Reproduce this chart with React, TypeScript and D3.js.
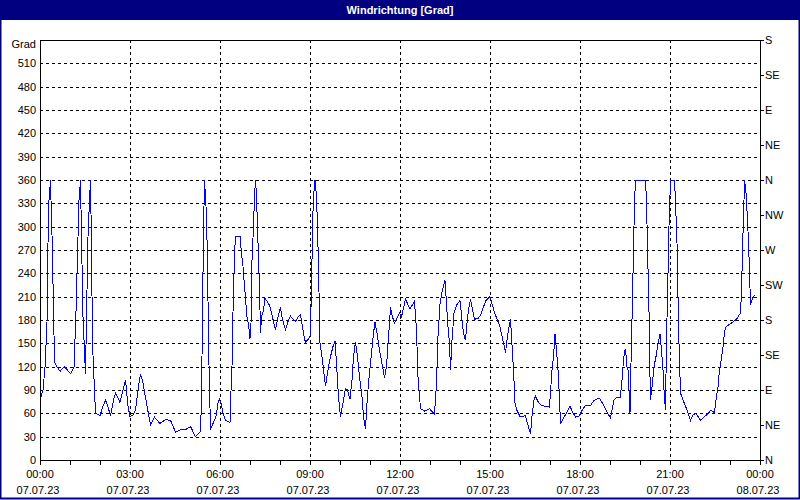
import * as d3 from "d3";

// Windrichtung 07.07.23 00:00 – 08.07.23 00:00, minutes since midnight
const minutes = [
  0, 6, 10, 14, 16, 18, 21, 22, 24, 27, 29, 34, 40, 49, 61, 68, 72, 76, 78, 81,
  83, 86, 91, 93, 96, 99, 101, 103, 105, 109, 111, 120, 126, 131, 136, 141, 147, 151, 160, 166,
  171, 176, 180, 186, 191, 196, 201, 206, 213, 221, 229, 240, 251, 261, 271, 281, 291, 301, 311, 320,
  323, 325, 328, 329, 332, 335, 337, 341, 346, 352, 356, 359, 363, 366, 371, 380, 381, 384, 385, 387,
  389, 391, 400, 403, 406, 408, 411, 414, 417, 420, 422, 424, 427, 429, 431, 433, 435, 437, 439, 441,
  443, 447, 450, 454, 459, 463, 467, 471, 476, 481, 484, 487, 491, 496, 501, 505, 511, 516, 521, 525,
  528, 531, 536, 540, 543, 545, 547, 550, 553, 555, 557, 560, 564, 567, 571, 576, 581, 586, 590, 593,
  597, 601, 606, 611, 615, 620, 624, 627, 631, 635, 639, 644, 647, 651, 654, 657, 663, 667, 670, 674,
  679, 684, 689, 693, 696, 699, 701, 705, 709, 715, 719, 723, 731, 740, 749, 753, 756, 761, 769, 779,
  789, 793, 796, 800, 805, 810, 813, 816, 819, 821, 824, 828, 833, 840, 844, 847, 851, 854, 857, 861,
  865, 869, 876, 881, 887, 892, 900, 904, 909, 915, 920, 924, 928, 931, 935, 938, 941, 944, 947, 950,
  953, 960, 966, 971, 975, 981, 984, 988, 991, 996, 1001, 1009, 1019, 1024, 1027, 1030, 1033, 1037, 1041, 1047,
  1053, 1060, 1065, 1071, 1079, 1081, 1086, 1091, 1101, 1106, 1111, 1119, 1126, 1133, 1141, 1144, 1148, 1152, 1160, 1163,
  1166, 1169, 1171, 1174, 1176, 1178, 1180, 1181, 1183, 1185, 1187, 1189, 1191, 1211, 1213, 1215, 1217, 1219, 1220, 1221,
  1224, 1228, 1232, 1236, 1240, 1243, 1246, 1248, 1251, 1253, 1255, 1257, 1259, 1262, 1269, 1271, 1274, 1276, 1278, 1281,
  1286, 1293, 1301, 1306, 1311, 1316, 1321, 1329, 1336, 1341, 1349, 1352, 1356, 1359, 1363, 1367, 1369, 1373, 1383, 1393,
  1400, 1403, 1405, 1407, 1409, 1412, 1415, 1417, 1419, 1421, 1425, 1429,
];

const degrees = [
  77, 90, 119, 176, 279, 334, 360, 334, 289, 197, 126, 120, 114, 120, 111, 119, 191, 287, 334, 360,
  287, 184, 111, 184, 287, 334, 360, 274, 150, 90, 60, 57, 69, 77, 68, 57, 77, 86, 74, 90,
  103, 69, 56, 58, 64, 90, 111, 99, 73, 45, 55, 47, 52, 51, 36, 39, 39, 43, 30, 36,
  69, 197, 326, 360, 326, 261, 150, 39, 47, 56, 73, 78, 71, 60, 51, 48, 73, 120, 167, 214,
  264, 288, 288, 266, 249, 231, 208, 184, 174, 156, 176, 257, 300, 339, 360, 339, 300, 259, 223, 163,
  184, 193, 208, 204, 199, 189, 178, 167, 184, 196, 184, 176, 168, 178, 185, 182, 178, 184, 187, 171,
  159, 151, 155, 159, 214, 300, 339, 360, 339, 300, 249, 150, 133, 116, 95, 116, 133, 146, 153, 124,
  81, 56, 73, 92, 90, 78, 103, 133, 152, 133, 107, 81, 56, 40, 73, 99, 137, 163, 177, 163,
  141, 124, 106, 120, 150, 176, 196, 184, 176, 184, 189, 184, 207, 194, 204, 167, 107, 66, 63, 66,
  59, 99, 159, 201, 219, 231, 201, 171, 150, 116, 154, 189, 199, 205, 180, 163, 154, 176, 193, 207,
  193, 181, 182, 186, 197, 205, 210, 201, 189, 180, 171, 159, 148, 138, 159, 171, 181, 148, 116, 73,
  65, 56, 56, 57, 47, 34, 56, 77, 82, 75, 71, 69, 68, 116, 133, 162, 141, 107, 47, 54,
  60, 69, 62, 55, 57, 60, 66, 70, 70, 75, 78, 79, 72, 63, 54, 64, 77, 80, 80, 94,
  120, 141, 142, 120, 116, 90, 60, 99, 150, 210, 270, 330, 360, 360, 332, 274, 219, 163, 107, 77,
  94, 120, 133, 150, 162, 141, 116, 90, 64, 154, 210, 270, 330, 360, 360, 332, 279, 210, 150, 86,
  77, 66, 51, 58, 60, 56, 51, 56, 59, 64, 61, 77, 94, 116, 131, 150, 166, 172, 176, 181,
  188, 210, 274, 309, 360, 343, 309, 279, 244, 199, 208, 212,
];

const gradTicks = d3.range(0, 540, 30);
const compassTicks = d3.range(0, 541, 45);
const compassLabels = ["N", "NE", "E", "SE", "S", "SW", "W", "NW", "N", "NE", "E", "SE", "S"];
const hourTicks = d3.range(0, 1441, 60);
const labelTicks = d3.range(0, 1441, 180);
const timeLabels = ["00:00", "03:00", "06:00", "09:00", "12:00", "15:00", "18:00", "21:00", "00:00"];
const dateLabels = ["07.07.23", "07.07.23", "07.07.23", "07.07.23", "07.07.23", "07.07.23", "07.07.23", "07.07.23", "08.07.23"];

const W = 800;
const H = 500;
const left = 40;
const right = 760;
const top = 40;
const bottom = 460;

export default function App() {
  const x = d3.scaleLinear().domain([0, 1440]).range([left, right]);
  const y = d3.scaleLinear().domain([0, 540]).range([bottom, top]);

  const pts = minutes.map((m, i) => [m, degrees[i]] as [number, number]);
  const line = d3
    .line<[number, number]>()
    .x((d) => x(d[0]))
    .y((d) => y(d[1]));

  const font = "'Liberation Sans', Arial, sans-serif";

  return (
    <svg
      width={W}
      height={H}
      style={{ position: "absolute", left: 0, top: 0, background: "#fff" }}
      fontFamily={font}
      fontSize={11}
    >
      <rect x={0} y={0} width={W} height={H} fill="#fff" />
      <rect x={0} y={0} width={W} height={20} fill="#000080" />
      <text x={W / 2} y={14} textAnchor="middle" fill="#fff" fontWeight="bold">
        Windrichtung [Grad]
      </text>
      <rect x={0.5} y={0.5} width={W - 1} height={H - 2} fill="none" stroke="#000080" strokeWidth={2} />

      <g shapeRendering="crispEdges" stroke="#000" strokeDasharray="3,3">
        {gradTicks.slice(1).map((v) => (
          <line key={"h" + v} x1={left} x2={right} y1={Math.round(y(v)) + 0.5} y2={Math.round(y(v)) + 0.5} />
        ))}
        {labelTicks.slice(1, -1).map((m) => (
          <line key={"v" + m} x1={Math.round(x(m)) + 0.5} x2={Math.round(x(m)) + 0.5} y1={top} y2={bottom} />
        ))}
      </g>

      <path d={line(pts) ?? ""} fill="none" stroke="#0000ff" strokeWidth={1} shapeRendering="crispEdges" />

      <g shapeRendering="crispEdges" stroke="#000">
        <line x1={left + 0.5} x2={left + 0.5} y1={top} y2={bottom + 1} />
        <line x1={right + 0.5} x2={right + 0.5} y1={top} y2={bottom + 1} />
        <line x1={left} x2={right + 1} y1={top + 0.5} y2={top + 0.5} />
        <line x1={left} x2={right + 1} y1={bottom + 0.5} y2={bottom + 0.5} />
        {hourTicks.map((m) => (
          <line key={"t" + m} x1={Math.round(x(m)) + 0.5} x2={Math.round(x(m)) + 0.5} y1={bottom} y2={bottom + 5} />
        ))}
        {compassTicks.map((v) => (
          <line key={"c" + v} x1={right} x2={right + 4} y1={Math.round(y(v)) + 0.5} y2={Math.round(y(v)) + 0.5} />
        ))}
      </g>

      <g fill="#000">
        {gradTicks.map((v) => (
          <text key={"gl" + v} x={left - 4} y={y(v) + 4} textAnchor="end">
            {v}
          </text>
        ))}
        <text x={left - 4} y={y(540) + 8} textAnchor="end">
          Grad
        </text>
        {compassTicks.map((v, i) => (
          <text key={"cl" + v} x={right + 5} y={y(v) + 4}>
            {compassLabels[i]}
          </text>
        ))}
        {labelTicks.map((m, i) => (
          <g key={"xl" + m}>
            <text x={x(m)} y={478} textAnchor="middle">
              {timeLabels[i]}
            </text>
            <text x={x(m) - 2} y={494} textAnchor="middle">
              {dateLabels[i]}
            </text>
          </g>
        ))}
      </g>
    </svg>
  );
}
